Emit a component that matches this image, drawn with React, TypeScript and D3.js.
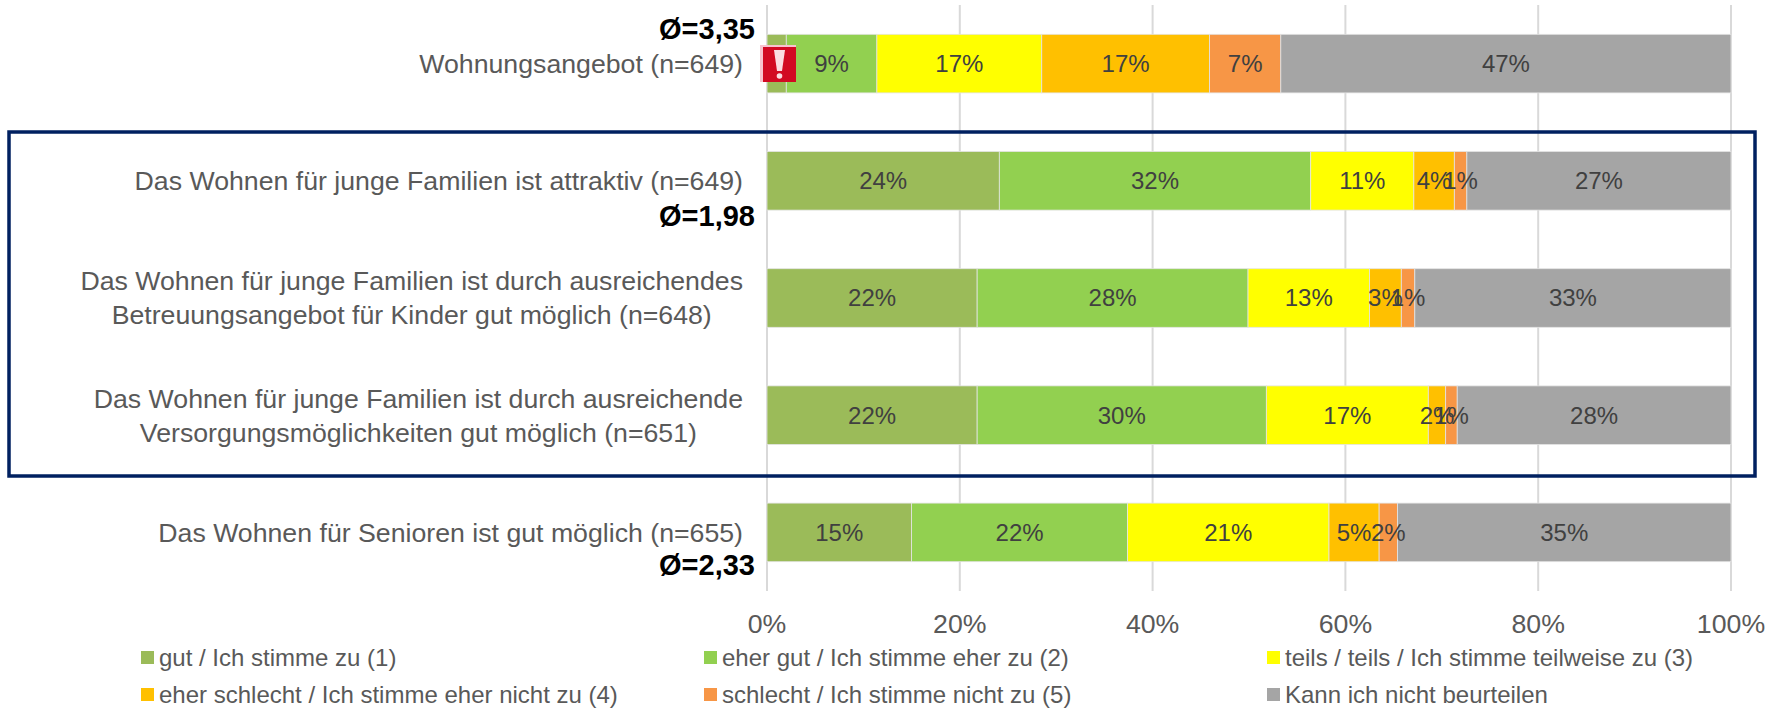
import React from "react";
import * as d3 from "d3";

const WIDTH = 1769;
const HEIGHT = 708;

const rows = ["r1", "r2", "r3", "r4", "r5"];
const categoryLines = [
  ["Wohnungsangebot (n=649)"],
  ["Das Wohnen für junge Familien ist attraktiv (n=649)"],
  [
    "Das Wohnen für junge Familien ist durch ausreichendes",
    "Betreuungsangebot für Kinder gut möglich (n=648)",
  ],
  [
    "Das Wohnen für junge Familien ist durch ausreichende",
    "Versorgungsmöglichkeiten gut möglich (n=651)",
  ],
  ["Das Wohnen für Senioren ist gut möglich (n=655)"],
];

const gut = [2.0, 24.1, 21.8, 21.8, 15.0];
const eherGut = [9.4, 32.3, 28.1, 30.0, 22.4];
const teils = [17.1, 10.7, 12.6, 16.8, 20.9];
const eherSchlecht = [17.4, 4.2, 3.3, 1.8, 5.2];
const schlecht = [7.4, 1.3, 1.4, 1.2, 1.9];
const keineAngabe = [46.7, 27.4, 32.8, 28.4, 34.6];

const seriesValues = [gut, eherGut, teils, eherSchlecht, schlecht, keineAngabe];
const seriesKeys = ["s1", "s2", "s3", "s4", "s5", "s6"];
const seriesNames = [
  "gut / Ich stimme zu (1)",
  "eher gut / Ich stimme eher zu (2)",
  "teils / teils / Ich stimme teilweise zu (3)",
  "eher schlecht / Ich stimme eher nicht zu (4)",
  "schlecht / Ich stimme nicht zu (5)",
  "Kann ich nicht beurteilen",
];
const seriesColors = ["#9BBB59", "#92D050", "#FFFF00", "#FFC000", "#F79646", "#A5A5A5"];

const axisTicks = [0, 20, 40, 60, 80, 100];
const averageLabels = ["Ø=3,35", "Ø=1,98", "Ø=2,33"];
const averageRows = [0, 1, 4];

const FONT = "'Liberation Sans', Arial, sans-serif";
const LABEL_SIZE = 26.7;

const x = d3.scaleLinear().domain([0, 100]).range([767, 1731]);
const y = d3.scaleBand().domain(rows).range([5, 591]).paddingInner(0.5).paddingOuter(0.25);

// legend grid, 3 columns x 2 rows
const legendX = d3.scaleOrdinal<number, number>().domain([0, 1, 2]).range([141, 704, 1267]);
const legendY = d3.scaleOrdinal<number, number>().domain([0, 1]).range([657.5, 694.5]);

const table = rows.map((r, i) => {
  const row: any = { row: r };
  seriesKeys.forEach((k, j) => (row[k] = seriesValues[j][i]));
  return row;
});
const stacked = d3.stack().keys(seriesKeys)(table);

// two-line labels are centred on each other, with the longer line ending at the right edge
function lineWidth(text: string) {
  const ctx = document.createElement("canvas").getContext("2d");
  ctx.font = `${LABEL_SIZE}px 'Liberation Sans'`;
  return ctx.measureText(text).width;
}

function WarningIcon() {
  return (
    <g>
      <rect x={760} y={45} width={36} height={37} fill="#f8c4cf" />
      <rect x={763} y={47} width={33} height={35} fill="#d20a22" />
      <path d="M774 50 L785 50 L782 71 L777 71 Z" fill="#fbdde2" />
      <circle cx={779.5} cy={76} r={2.8} fill="#fbdde2" />
    </g>
  );
}

export default function App() {
  const labelRight = 743;
  // the Ø boxes sit by hand in the original, so each has its own gap to the bar
  const averageY = [y(rows[0]) - 5, y(rows[1]) + y.bandwidth() + 6, y(rows[4]) + y.bandwidth() + 3];
  return (
    <svg
      width={WIDTH}
      height={HEIGHT}
      style={{ position: "absolute", left: 0, top: 0, background: "#fff", fontFamily: FONT }}
    >
      {axisTicks.map((t) => (
        <line key={t} x1={x(t)} x2={x(t)} y1={5} y2={591} stroke="#d9d9d9" strokeWidth={2} />
      ))}

      {stacked.map((s, j) =>
        s.map((d, i) => (
          <rect
            key={`${j}-${i}`}
            x={x(d[0])}
            y={y(rows[i])}
            width={x(d[1]) - x(d[0])}
            height={y.bandwidth()}
            fill={seriesColors[j]}
            stroke="#e4e4e4"
            strokeWidth={0.8}
          />
        ))
      )}

      {stacked.map((s, j) =>
        s.map((d, i) => (
          <text
            key={`${j}-${i}`}
            x={x((d[0] + d[1]) / 2)}
            y={y(rows[i]) + y.bandwidth() / 2}
            dy="0.35em"
            textAnchor="middle"
            fontSize={24}
            fill="#404040"
          >
            {Math.round(d[1] - d[0])}%
          </text>
        ))
      )}

      <WarningIcon />

      {categoryLines.map((lines, i) => {
        const mid = y(rows[i]) + y.bandwidth() / 2;
        const longest = d3.max(lines, lineWidth);
        const cx = labelRight - longest / 2;
        return lines.map((line, k) => (
          <text
            key={line}
            x={cx}
            y={mid + (k - (lines.length - 1) / 2) * 34}
            dy="0.35em"
            textAnchor="middle"
            fontSize={LABEL_SIZE}
            fill="#595959"
          >
            {line}
          </text>
        ));
      })}

      {averageLabels.map((label, i) => (
        <text
          key={label}
          x={755}
          y={averageY[i]}
          dy="0.35em"
          textAnchor="end"
          fontSize={29}
          fontWeight="bold"
          fill="#000"
        >
          {label}
        </text>
      ))}

      {axisTicks.map((t) => (
        <text
          key={t}
          x={x(t)}
          y={624}
          dy="0.35em"
          textAnchor="middle"
          fontSize={26.7}
          fill="#595959"
        >
          {t}%
        </text>
      ))}

      <rect x={9} y={132} width={1746} height={344} fill="none" stroke="#002060" strokeWidth={3.5} />

      {seriesNames.map((name, i) => {
        const col = i % 3;
        const row = Math.floor(i / 3);
        return (
          <g key={name}>
            <rect
              x={legendX(col)}
              y={legendY(row) - 6.5}
              width={13}
              height={13}
              fill={seriesColors[i]}
            />
            <text
              x={legendX(col) + 18}
              y={legendY(row)}
              dy="0.35em"
              fontSize={24}
              fill="#595959"
            >
              {name}
            </text>
          </g>
        );
      })}
    </svg>
  );
}
